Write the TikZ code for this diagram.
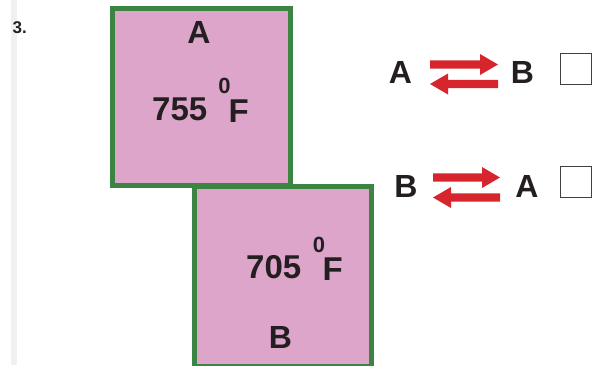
\documentclass[tikz,border=0pt]{standalone}
\usepackage{fontspec}
\setmainfont{Liberation Sans}
\definecolor{boxpink}{HTML}{DDA5C9}
\definecolor{boxgreen}{HTML}{3B8441}
\definecolor{arrred}{HTML}{D7252E}
\definecolor{txt}{HTML}{231F20}
\tikzset{
  lbl/.style={inner sep=0pt, anchor=base, text=txt, font=\fontsize{32}{32}\selectfont\bfseries},
  num/.style={inner sep=0pt, anchor=base west, text=txt, font=\fontsize{33}{33}\selectfont\bfseries},
  deg/.style={inner sep=0pt, anchor=base, text=txt, font=\fontsize{22}{22}\selectfont\bfseries},
  tbox/.style={draw=boxgreen, fill=boxpink, line width=5pt},
  chk/.style={draw=black!75, line width=1pt, minimum size=31pt, inner sep=0pt},
  redarrow/.style={fill=arrred, draw=none}
}
% right-pointing arrow: #1 x-left, #2 x-tip, #3 y-centre
\newcommand{\rarrowshape}[3]{%
  \fill[redarrow] (#1,#3-4.2) -- (#2-18,#3-4.2) -- (#2-18,#3-10.5) -- (#2,#3)
    -- (#2-18,#3+10.5) -- (#2-18,#3+4.2) -- (#1,#3+4.2) -- cycle;}
\newcommand{\larrowshape}[3]{%
  \fill[redarrow] (#2,#3-4.2) -- (#1+18,#3-4.2) -- (#1+18,#3-10.5) -- (#1,#3)
    -- (#1+18,#3+10.5) -- (#1+18,#3+4.2) -- (#2,#3+4.2) -- cycle;}
\begin{document}
\begin{tikzpicture}[x=1pt,y=-1pt]
\useasboundingbox (0,0) rectangle (595,365);
\fill[white] (0,0) rectangle (595,365);
\fill[black!6] (11,0) rectangle (17,365);
\node[inner sep=0pt, anchor=base west, text=txt, font=\fontsize{17}{17}\selectfont\bfseries] (num) at (12.5,33) {3.};
% Box A
\draw[tbox] (112.5,8.5) rectangle (290.5,185.5);
\node[lbl] (la) at (199,43) {A};
\node[num] (ta) at (152,120) {755};
\node[deg] (da) at (224.5,93) {0};
\node[num] (fa) at (228.5,122) {F};
% Box B
\draw[tbox] (194.2,186.5) rectangle (371.5,366);
\node[num] (tb) at (246,278) {705};
\node[deg] (db) at (319,252) {0};
\node[num] (fb) at (322.5,280) {F};
\node[lbl] (lb) at (280.5,348) {B};
% Row 1
\node[lbl] (r1a) at (400.5,83) {A};
\rarrowshape{430}{498}{64.5}
\larrowshape{430}{498}{84}
\node[lbl] (r1b) at (522.5,83) {B};
\node[chk] (c1) at (575.5,69) {};
% Row 2
\node[lbl] (r2b) at (406,197) {B};
\rarrowshape{433}{500}{177.5}
\larrowshape{433}{500}{197.5}
\node[lbl] (r2a) at (527,197) {A};
\node[chk] (c2) at (575.5,182) {};
\end{tikzpicture}
\end{document}
